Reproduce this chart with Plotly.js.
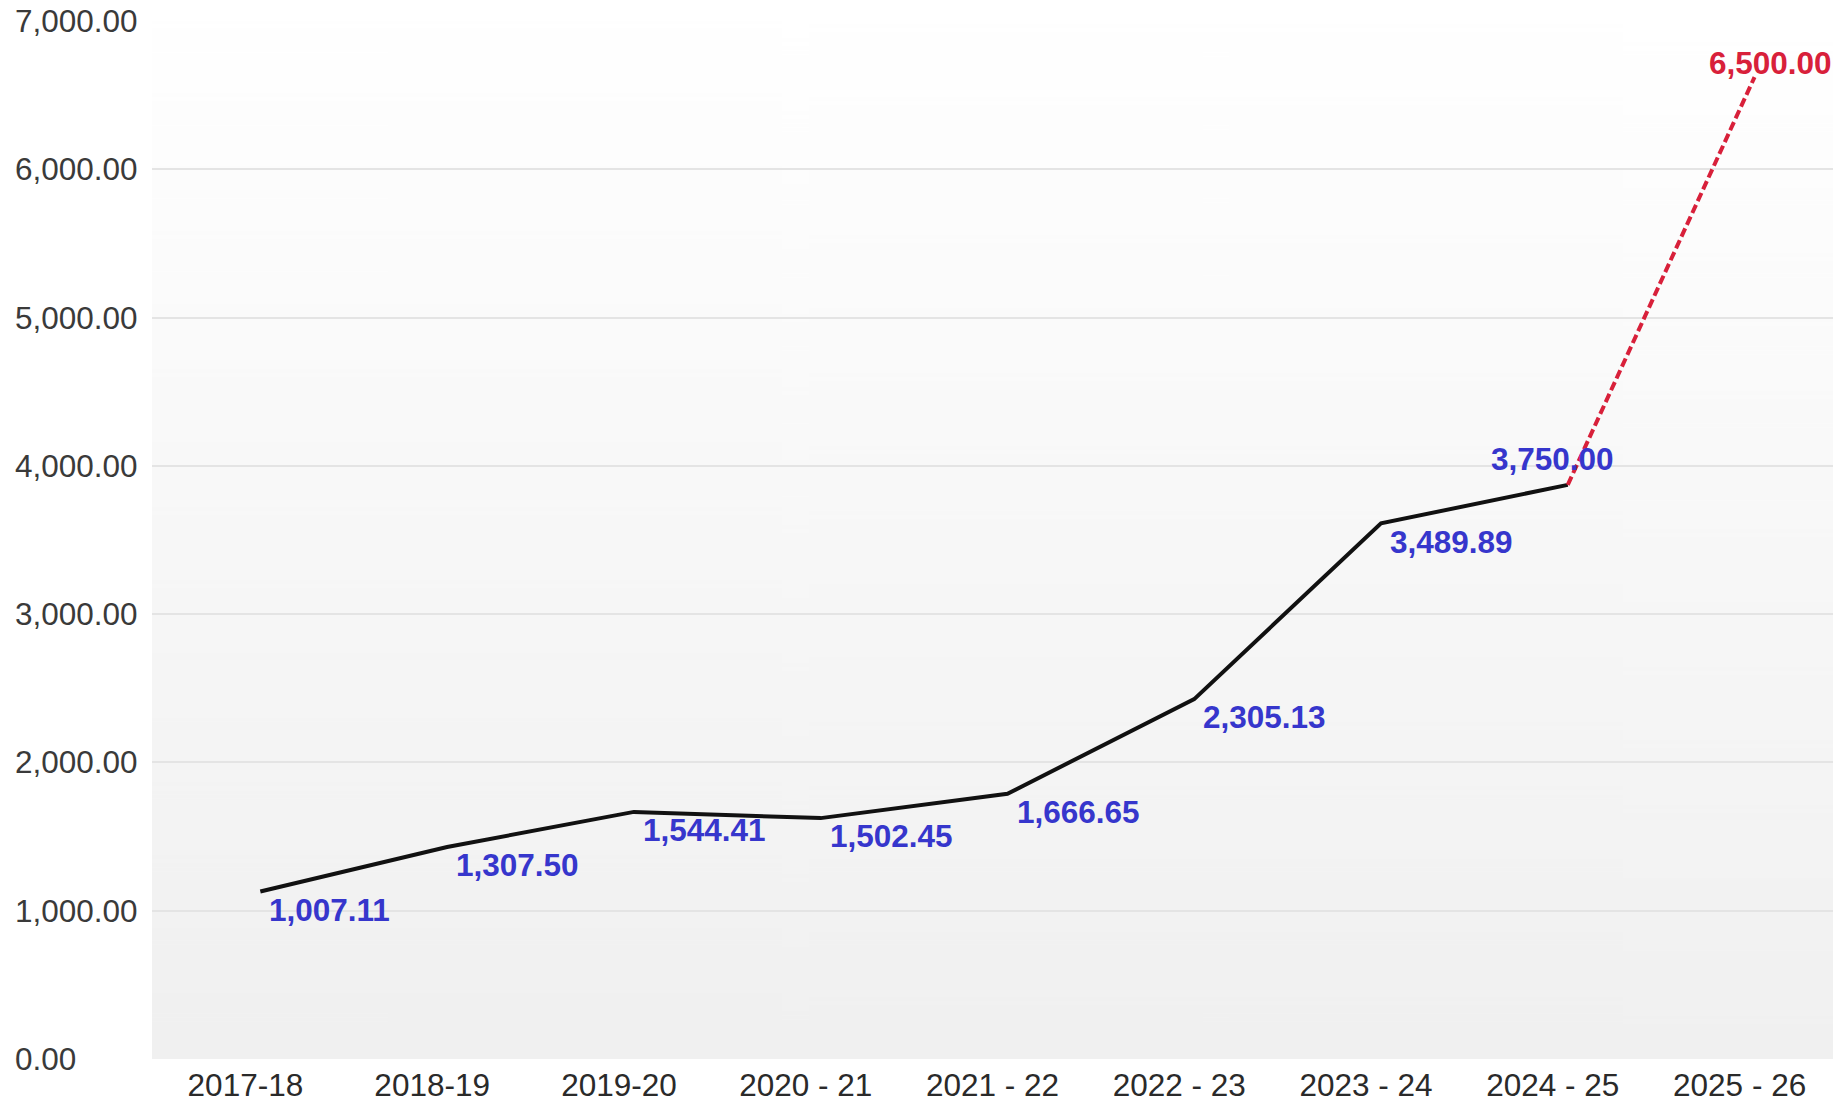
<!DOCTYPE html>
<html>
<head>
<meta charset="utf-8">
<script src="https://cdn.plot.ly/plotly-3.0.1.min.js"></script>
<style>
html,body{margin:0;padding:0;background:#fff;}
#chart{width:1833px;height:1105px;}
</style>
</head>
<body>
<div id="chart"></div>
<script>
// ---- data ----
const categories = ['2017-18','2018-19','2019-20','2020 - 21','2021 - 22','2022 - 23','2023 - 24','2024 - 25','2025 - 26'];
const actualCategories = ['2017-18','2018-19','2019-20','2020 - 21','2021 - 22','2022 - 23','2023 - 24','2024 - 25'];
const actualValues = [1007.11, 1307.50, 1544.41, 1502.45, 1666.65, 2305.13, 3489.89, 3750.00];
const forecastCategories = ['2024 - 25','2025 - 26'];
const forecastValues = [3750.00, 6500.00];
const yTickValues = [0, 1000, 2000, 3000, 4000, 5000, 6000, 7000];

// ---- styling ----
const FONT = 'Arial, "Liberation Sans", sans-serif';
const BLUE = '#3636cc';
const RED = '#d8203a';
const FS = 31.5;

function fmt(v){ return v.toLocaleString('en-US',{minimumFractionDigits:2, maximumFractionDigits:2}); }

// gradient background for the plot area
function gradientURL(){
  const c = document.createElement('canvas');
  c.width = 4; c.height = 512;
  const g = c.getContext('2d');
  const gr = g.createLinearGradient(0,0,0,512);
  gr.addColorStop(0,'#ffffff');
  gr.addColorStop(1,'#f0f0f0');
  g.fillStyle = gr; g.fillRect(0,0,4,512);
  return c.toDataURL('image/png');
}

const traces = [
  {
    type:'scatter', mode:'lines', x: actualCategories, y: actualValues,
    xaxis:'x2', yaxis:'y2',
    line:{color:'#111111', width:4}, hoverinfo:'skip', showlegend:false
  },
  {
    type:'scatter', mode:'lines', x: forecastCategories, y: forecastValues,
    xaxis:'x2', yaxis:'y2',
    line:{color:RED, width:4, dash:'9px,4px'}, hoverinfo:'skip', showlegend:false
  }
];

// label placement (style only)
const annotations = actualValues.map((v,i)=>{
  const last = i === actualValues.length-1;
  return {
    x: actualCategories[i], y: v, xref:'x', yref:'y',
    text: fmt(v), showarrow:false,
    xanchor: last ? 'center' : 'left', yanchor:'middle',
    xshift: last ? 0 : 22, yshift: last ? 44 : 0,
    font:{family:FONT, size:FS, color:BLUE, weight:'bold'}
  };
});
annotations.push({
  x: forecastCategories[1], y: forecastValues[1], xref:'x', yref:'y',
  text: fmt(forecastValues[1]), showarrow:false,
  xanchor:'center', yanchor:'middle', xshift:31, yshift:32,
  font:{family:FONT, size:FS, color:RED, weight:'bold'}
});

const layout = {
  width:1833, height:1105,
  margin:{l:152, r:0, t:21, b:46},
  paper_bgcolor:'#ffffff',
  plot_bgcolor:'rgba(0,0,0,0)',
  showlegend:false,
  font:{family:FONT, color:'#333333'},
  images:[{
    source: gradientURL(), xref:'paper', yref:'paper',
    x:0, y:1, sizex:1, sizey:1, sizing:'stretch', layer:'below',
    xanchor:'left', yanchor:'top'
  }],
  xaxis:{
    type:'category', categoryarray: categories, categoryorder:'array',
    range:[-0.5, 8.5], showgrid:false, zeroline:false, showline:false,
    ticks:'', tickfont:{family:FONT, size:FS, color:'#2a2a2a'},
    ticklabelstandoff:4, fixedrange:true
  },
  yaxis:{
    range:[0,7000], tickvals: yTickValues, tickformat:',.2f',
    showgrid:true, gridcolor:'#e4e4e4', gridwidth:2,
    zeroline:false, showline:false, ticks:'',
    tickfont:{family:FONT, size:FS, color:'#3a3a3a'},
    ticklabelposition:'inside', ticklabelstandoff:-140, ticklabeloverflow:'allow',
    fixedrange:true
  },
  xaxis2:{
    type:'category', categoryarray: categories, categoryorder:'array',
    overlaying:'x', range:[-0.58, 8.42], visible:false, fixedrange:true
  },
  yaxis2:{
    overlaying:'y', range:[-122, 6878], visible:false, fixedrange:true
  },
  annotations: annotations
};

Plotly.newPlot('chart', traces, layout, {displayModeBar:false, staticPlot:true});
</script>
</body>
</html>
